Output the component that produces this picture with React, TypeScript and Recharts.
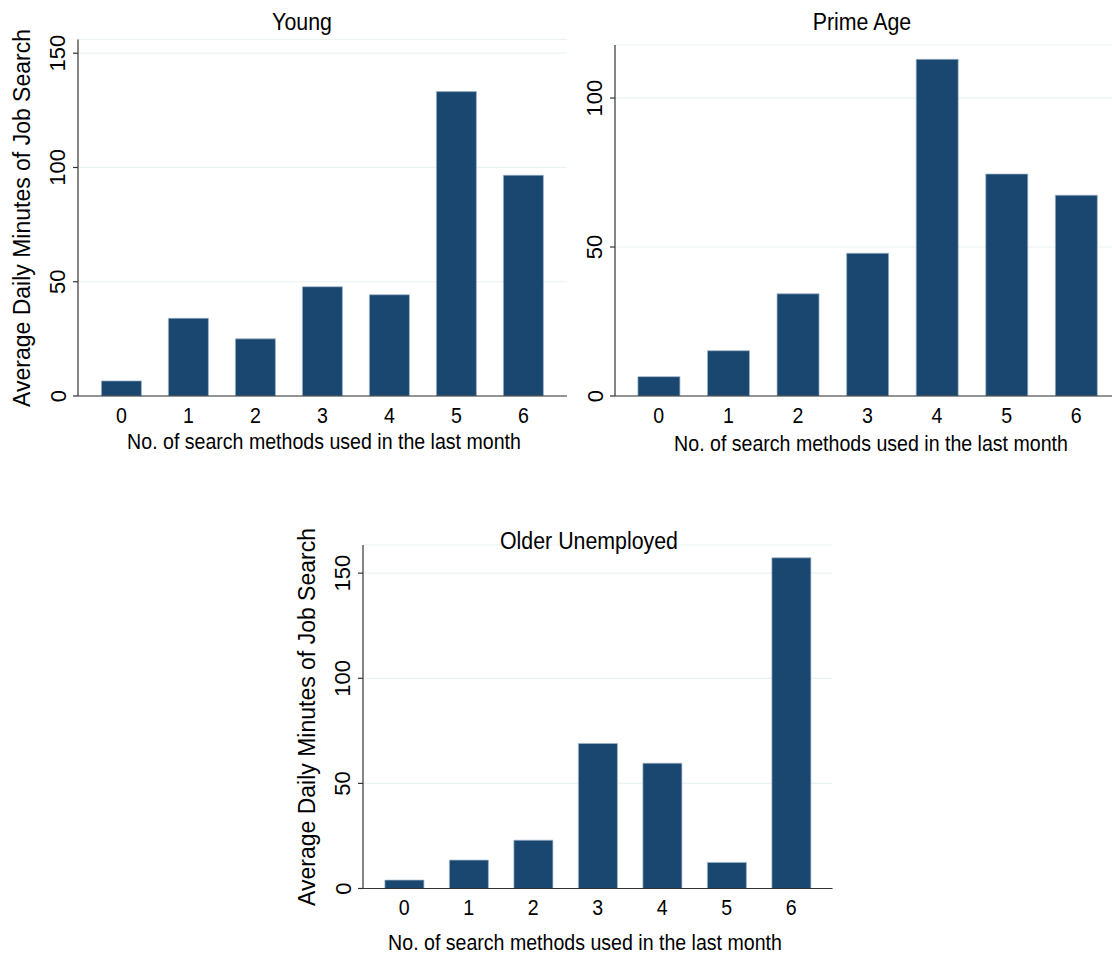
import React from 'react';
import { BarChart, Bar, XAxis, YAxis, CartesianGrid } from 'recharts';

const methods = ['0', '1', '2', '3', '4', '5', '6'];
const youngMinutes = [6.6, 34, 25, 47.8, 44.3, 133.2, 96.6];
const primeMinutes = [6.5, 15.2, 34.3, 47.9, 113, 74.5, 67.4];
const olderMinutes = [4.0, 13.5, 23, 69, 59.6, 12.4, 157.3];
const youngTicks = [0, 50, 100, 150];
const primeTicks = [0, 50, 100];
const olderTicks = [0, 50, 100, 150];

const xTitle = 'No. of search methods used in the last month';
const yTitle = 'Average Daily Minutes of Job Search';

const FONT = '"Liberation Sans", Arial, sans-serif';
const NAVY = '#1a476f';
// Stata text looks a bit narrow, squeeze horizontal labels
const SQ = 0.89;

const toRows = (vals: number[]) => methods.map((m, i) => ({ m, v: vals[i] }));

// horizontal text squeezed around its own centre
const HText = ({ x, y, size, children }: { x: number; y: number; size: number; children: React.ReactNode }) => (
  <text
    x={x}
    y={y}
    transform={`translate(${x} 0) scale(${SQ} 1) translate(${-x} 0)`}
    textAnchor="middle"
    dominantBaseline="central"
    fontSize={size}
    fontFamily={FONT}
    fill="#000"
  >
    {children}
  </text>
);

interface PanelProps {
  values: number[];
  ticks: number[];
  yMax: number;
  w: number;
  h: number;
  plotLeft: number;
  plotRight: number;
  plotTop: number;
  plotBottom: number;
  pad: number;
}

const Panel: React.FC<PanelProps> = ({ values, ticks, yMax, w, h, plotLeft, plotRight, plotTop, plotBottom, pad }) => {
  const data = toRows(values);

  // rotated y tick labels, like Stata does
  const YTick = (p: any) => (
    <text
      x={plotLeft - 20}
      y={p.y}
      transform={`rotate(-90, ${plotLeft - 20}, ${p.y})`}
      textAnchor="middle"
      dominantBaseline="central"
      fontSize={22}
      fontFamily={FONT}
      fill="#000"
    >
      {p.payload.value}
    </text>
  );

  const XTick = (p: any) => (
    <HText x={p.x} y={plotBottom + 19} size={22}>
      {p.payload.value}
    </HText>
  );

  return (
    <div style={{ position: 'absolute', left: 0, top: 0 }}>
      <BarChart
        width={w}
        height={h}
        data={data}
        barCategoryGap="20%"
        margin={{ top: plotTop, left: plotLeft - 40, right: w - plotRight, bottom: h - plotBottom - 30 }}
      >
        <CartesianGrid vertical={false} stroke="#eaf2f3" strokeWidth={1.2} />
        <XAxis
          dataKey="m"
          height={30}
          padding={{ left: pad, right: pad }}
          tickLine={false}
          axisLine={{ stroke: '#333', strokeWidth: 1.2 }}
          tick={<XTick />}
          interval={0}
        />
        <YAxis
          width={40}
          type="number"
          domain={[0, yMax]}
          ticks={ticks}
          allowDataOverflow
          axisLine={{ stroke: '#333', strokeWidth: 1.2 }}
          tickLine={{ stroke: '#333', strokeWidth: 1.2 }}
          tickSize={5}
          tick={<YTick />}
        />
        <Bar dataKey="v" fill={NAVY} stroke="#9fb4c8" strokeWidth={0.7} isAnimationActive={false} />
      </BarChart>
    </div>
  );
};

const labelStyle = { fontFamily: FONT, fill: '#000' };

export default function App() {
  return (
    <div style={{ position: 'absolute', left: 0, top: 0, width: 1112, height: 955, overflow: 'hidden', background: '#fff' }}>
      <Panel values={youngMinutes} ticks={youngTicks} yMax={156} w={600} h={470}
        plotLeft={78} plotRight={567} plotTop={39.5} plotBottom={396} pad={10} />
      <Panel values={primeMinutes} ticks={primeTicks} yMax={117.8} w={1130} h={470}
        plotLeft={615} plotRight={1120} plotTop={45} plotBottom={396} pad={9} />
      <Panel values={olderMinutes} ticks={olderTicks} yMax={163.4} w={900} h={955}
        plotLeft={363} plotRight={832.5} plotTop={545} plotBottom={888.5} pad={9} />
      <svg width={1112} height={955} style={{ position: 'absolute', left: 0, top: 0, pointerEvents: 'none' }}>
        <HText x={302} y={22} size={24}>Young</HText>
        <HText x={862} y={22} size={24}>Prime Age</HText>
        <HText x={589} y={541} size={24}>Older Unemployed</HText>

        <HText x={324} y={441} size={22}>{xTitle}</HText>
        <HText x={871} y={443} size={22}>{xTitle}</HText>
        <HText x={585} y={942} size={22}>{xTitle}</HText>

        <text x={22} y={218} transform="rotate(-90, 22, 218)" textAnchor="middle" dominantBaseline="central" fontSize={23} style={labelStyle}>{yTitle}</text>
        <text x={307} y={717} transform="rotate(-90, 307, 717)" textAnchor="middle" dominantBaseline="central" fontSize={23} style={labelStyle}>{yTitle}</text>
      </svg>
    </div>
  );
}
